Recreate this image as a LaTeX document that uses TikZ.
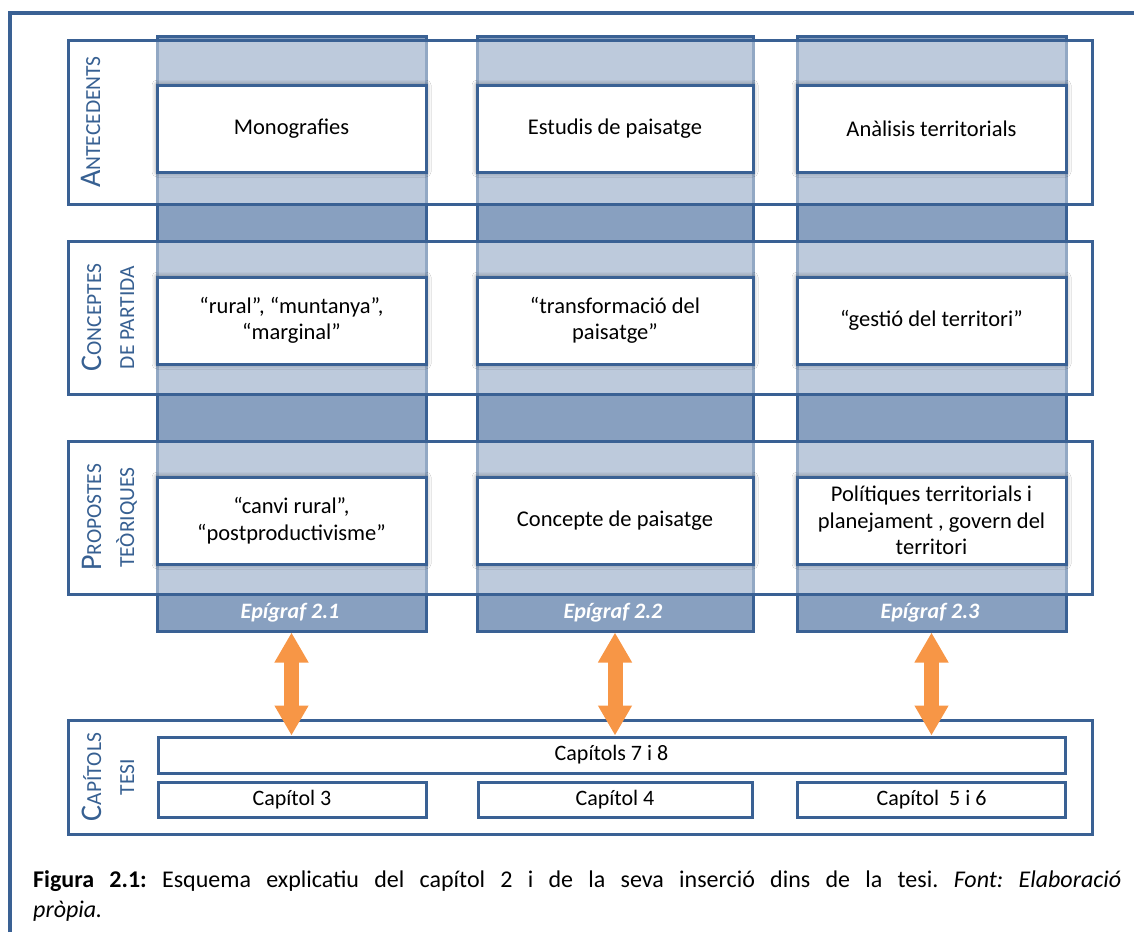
\documentclass[tikz,border=0pt]{standalone}
\usepackage{fontspec}
\setmainfont{Carlito}
\usetikzlibrary{arrows.meta,shadows.blur}
\definecolor{bdr}{HTML}{3A6194}
\definecolor{coldark}{HTML}{88A0C0}
\definecolor{lbl}{HTML}{376092}
\definecolor{arr}{HTML}{F79646}
\newcommand\bigsc[2]{{\fontsize{30}{34}\selectfont #1}{\fontsize{21.5}{34}\selectfont #2}}
\newcommand\smsc[1]{{\fontsize{21.5}{34}\selectfont #1}}
\frenchspacing
\begin{document}
\begin{tikzpicture}[x=1pt,y=-1pt,
  colbox/.style={draw=bdr, line width=3pt, fill=coldark, inner sep=0pt},
  rowbox/.style={draw=bdr, line width=3pt, fill=white, fill opacity=0.45, draw opacity=1, inner sep=0pt},
  innerbox/.style={draw=bdr, line width=3pt, fill=white, align=center, inner sep=0pt,
    font=\fontsize{22.5}{26.5}\selectfont,
    blur shadow={shadow xshift=0pt, shadow yshift=0pt, shadow blur radius=5pt, shadow opacity=50}},
  capbox/.style={draw=bdr, line width=3pt, fill=white, inner sep=0pt, font=\fontsize{22}{24}\selectfont},
  rowlabel/.style={rotate=90, anchor=base, text=lbl, inner sep=0pt},
  epi/.style={text=white, font=\fontsize{22}{24}\selectfont\bfseries\itshape, inner sep=0pt},
  dblarrow/.style={draw=arr, line width=15pt, {Triangle[width=32pt,length=30pt]}-{Triangle[width=32pt,length=30pt]}},
  frame/.style={draw=bdr, line width=4pt}
]
\useasboundingbox (0,0) rectangle (1134,932);
\draw[frame] (10,932) -- (10,13) -- (1134,13);

% columns
\node[colbox, minimum width=269pt, minimum height=595pt] (col1) at (291.5,333.5) {};
\node[colbox, minimum width=276pt, minimum height=595pt] (col2) at (615,333.5) {};
\node[colbox, minimum width=269pt, minimum height=595pt] (col3) at (931.5,333.5) {};

% rows
\node[rowbox, minimum width=1024pt, minimum height=164pt] (row1) at (580,122) {};
\node[rowbox, minimum width=1024pt, minimum height=153pt] (row2) at (580,317.5) {};
\node[rowbox, minimum width=1024pt, minimum height=153pt] (row3) at (580,517.5) {};
\node[rowbox, minimum width=1024pt, minimum height=114pt] (row4) at (580,777) {};

% row labels
\node[rowlabel] (l1) at (100,122) {\bigsc{A}{NTECEDENTS}};
\node[rowlabel] (l2a) at (101,317.5) {\bigsc{C}{ONCEPTES}};
\node[rowlabel] (l2b) at (134,317.5) {\smsc{DE PARTIDA}};
\node[rowlabel] (l3a) at (101,517.5) {\bigsc{P}{ROPOSTES}};
\node[rowlabel] (l3b) at (134,517.5) {\smsc{TEÒRIQUES}};
\node[rowlabel] (l4a) at (101,777) {\bigsc{C}{APÍTOLS}};
\node[rowlabel] (l4b) at (134,777) {\smsc{TESI}};

% inner boxes
\node[innerbox, minimum width=269pt, minimum height=87pt] (a1) at (291.5,128.5) {Monografies};
\node[innerbox, minimum width=276pt, minimum height=87pt] (a2) at (615,128.5) {Estudis de paisatge};
\node[innerbox, minimum width=269pt, minimum height=87pt] (a3) at (931.5,128.5) {Anàlisis territorials};

\node[innerbox, minimum width=269pt, minimum height=87pt] (b1) at (291.5,320.5) {“rural”, “muntanya”,\\“marginal”};
\node[innerbox, minimum width=276pt, minimum height=87pt] (b2) at (615,320.5) {“transformació del\\paisatge”};
\node[innerbox, minimum width=269pt, minimum height=87pt] (b3) at (931.5,320.5) {“gestió del territori”};

\node[innerbox, minimum width=269pt, minimum height=87pt] (c1) at (291.5,520.5) {“canvi rural”,\\“postproductivisme”};
\node[innerbox, minimum width=276pt, minimum height=87pt] (c2) at (615,520.5) {Concepte de paisatge};
\node[innerbox, minimum width=269pt, minimum height=87pt] (c3) at (931.5,520.5) {Polítiques territorials i\\planejament , govern del\\territori};

% epigrafs
\node[epi] (e1) at (290,612.5) {Epígraf 2.1};
\node[epi] (e2) at (613,612.5) {Epígraf 2.2};
\node[epi] (e3) at (930,612.5) {Epígraf 2.3};

% chapters
\node[capbox, minimum width=907pt, minimum height=36pt] (cap78) at (611.5,755) {Capítols 7 i 8};
\node[capbox, minimum width=268pt, minimum height=35pt] (cap3) at (292,799.5) {Capítol 3};
\node[capbox, minimum width=274pt, minimum height=35pt] (cap4) at (615,799.5) {Capítol 4};
\node[capbox, minimum width=268pt, minimum height=35pt] (cap56) at (931.5,799.5) {Capítol~ 5 i 6};

% arrows
\draw[dblarrow] (col1.south) -- (col1.south |- cap78.north);
\draw[dblarrow] (col2.south) -- (col2.south |- cap78.north);
\draw[dblarrow] (col3.south) -- (col3.south |- cap78.north);

% caption
\node[anchor=north west, text width=1088pt, align=justify, inner sep=0pt,
  font=\fontsize{24}{30}\selectfont] (caption) at (33,870)
  {\textbf{Figura 2.1:} Esquema explicatiu del capítol 2 i de la seva inserció dins de la tesi. \textit{Font: Elaboració\linebreak pròpia.}};
\end{tikzpicture}
\end{document}
